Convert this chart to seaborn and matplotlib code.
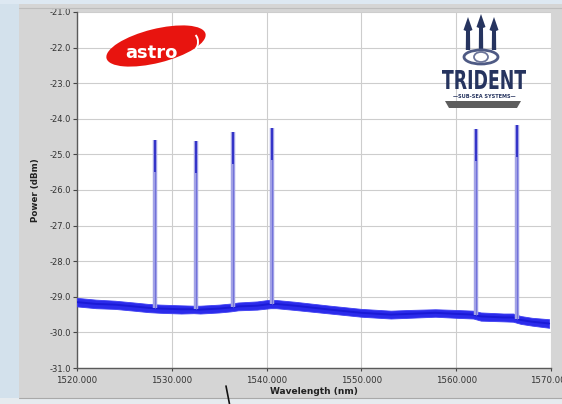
import numpy as np
import pandas as pd
import matplotlib
matplotlib.use("Agg")
import matplotlib.pyplot as plt
import seaborn as sns
from matplotlib.patches import Ellipse, Arc, Polygon, Rectangle, PathPatch
from matplotlib.textpath import TextPath
from matplotlib.font_manager import FontProperties
from matplotlib.transforms import IdentityTransform, Affine2D
from matplotlib.lines import Line2D

# ---- spectrum data -------------------------------------------------------
# noise floor: wavelength (nm), centre level and envelope (dBm)
floor_nm = [1520.0, 1522.0, 1524.0, 1526.0, 1527.5, 1528.8, 1531.0, 1532.3,
            1533.0, 1535.0, 1536.2, 1537.0, 1539.0, 1540.4, 1541.0, 1543.0,
            1546.7, 1550.0, 1553.1, 1555.0, 1557.8, 1560.0, 1561.8, 1562.6,
            1565.0, 1566.0, 1566.8, 1568.0, 1569.8]
floor_dbm = [-29.15, -29.20, -29.22, -29.27, -29.31, -29.33, -29.35, -29.35,
             -29.36, -29.33, -29.30, -29.27, -29.25, -29.20, -29.20, -29.25,
             -29.36, -29.45, -29.50, -29.48, -29.45, -29.48, -29.50, -29.55,
             -29.58, -29.58, -29.65, -29.70, -29.75]
floor_upper = [-29.03, -29.08, -29.11, -29.16, -29.20, -29.22, -29.24, -29.25,
               -29.25, -29.22, -29.19, -29.16, -29.13, -29.08, -29.09, -29.14,
               -29.25, -29.34, -29.39, -29.37, -29.35, -29.37, -29.39, -29.44,
               -29.47, -29.47, -29.54, -29.59, -29.63]
floor_lower = [-29.27, -29.32, -29.34, -29.39, -29.43, -29.45, -29.47, -29.46,
               -29.47, -29.44, -29.41, -29.38, -29.36, -29.32, -29.32, -29.37,
               -29.47, -29.56, -29.61, -29.59, -29.56, -29.59, -29.61, -29.67,
               -29.69, -29.70, -29.76, -29.81, -29.87]

# DWDM channels: centre wavelength (nm) and peak power (dBm)
peak_nm = [1528.2, 1532.6, 1536.5, 1540.6, 1562.1, 1566.4]
peak_dbm = [-24.60, -24.62, -24.38, -24.27, -24.28, -24.18]

y_ticks = [-21.0, -22.0, -23.0, -24.0, -25.0, -26.0, -27.0, -28.0, -29.0,
           -30.0, -31.0]
x_ticks = [1520, 1530, 1540, 1550, 1560, 1570]

floor_df = pd.DataFrame({"Wavelength (nm)": floor_nm, "Power (dBm)": floor_dbm})

# ---- figure --------------------------------------------------------------
sns.set_theme(style="white")
plt.rcParams["font.family"] = ["DejaVu Sans"]
plt.rcParams["axes.unicode_minus"] = False

W, H = 562, 404
PANEL = "#d5d5d5"
fig = plt.figure(figsize=(W / 100, H / 100), dpi=100, facecolor=PANEL)

def px(x, y):
    """pixel position (from top-left) -> display coords"""
    return x, H - y

# surrounding desktop strips
fig.patches.append(Rectangle((0, 0), 19, H, transform=IdentityTransform(),
                             facecolor="#d3e1ec", edgecolor="none", zorder=0))
fig.patches.append(Rectangle((0, H - 4), W, 4, transform=IdentityTransform(),
                             facecolor="#dde8f2", edgecolor="none", zorder=0))
fig.patches.append(Rectangle((0, 0), W, 6, transform=IdentityTransform(),
                             facecolor="#e6ebef", edgecolor="none", zorder=0))
fig.lines.append(Line2D([19, W], [6, 6], transform=IdentityTransform(),
                        color="#a9a9a9", lw=0.8))
fig.lines.append(Line2D([19, W], [H - 8, H - 8], transform=IdentityTransform(),
                        color="#bdbdbd", lw=0.8))

ax = fig.add_axes([77 / W, 36 / H, 474 / W, 356 / H])
ax.set_facecolor("white")

# noise floor band
ax.fill_between(floor_nm, floor_lower, floor_upper, color="#2b2beb",
                lw=0.6, edgecolor="#3e3ef2", zorder=3)
sns.lineplot(data=floor_df, x="Wavelength (nm)", y="Power (dBm)", ax=ax,
             color="#1a1ad6", linewidth=1.4, zorder=4)

# channel peaks rising from the floor
peak_base = np.interp(peak_nm, floor_nm, floor_dbm)
ax.vlines(peak_nm, peak_base, peak_dbm, color="#a3a3e6", lw=3.2, zorder=5)
ax.vlines(peak_nm, peak_base, peak_dbm, color="#7272da", lw=0.8, zorder=6)
ax.vlines(peak_nm, np.array(peak_dbm) - 0.9, peak_dbm, color="#3232c8",
          lw=1.4, zorder=6)

ax.set_xlim(1520, 1570)
ax.set_ylim(-31, -21)
ax.set_xticks(x_ticks)
ax.set_yticks(y_ticks)
ax.set_xticklabels([f"{v:.3f}" for v in x_ticks])
ax.set_yticklabels([f"{v:.1f}" for v in y_ticks])
ax.grid(True, color="#cdcdcd", lw=0.8)
ax.set_axisbelow(True)
for s in ["top", "right"]:
    ax.spines[s].set_visible(False)
for s in ["left", "bottom"]:
    ax.spines[s].set_color("#5a5a5a")
    ax.spines[s].set_linewidth(1.0)
ax.tick_params(axis="y", direction="out", length=3, width=0.8, color="#444444",
               labelsize=6, labelcolor="#333333", pad=1, left=True)
ax.tick_params(axis="x", direction="out", length=2, width=0.8, color="#444444",
               labelsize=6.2, labelcolor="#333333", pad=4, bottom=True)
ax.set_xlabel("Wavelength (nm)", fontsize=6.5, fontweight="bold",
              color="#222222", labelpad=1)
ax.set_ylabel("Power (dBm)", fontsize=6.3, fontweight="bold",
              color="#222222", labelpad=7)

# ---- astro logo ----------------------------------------------------------
fig.patches.append(Ellipse(px(156, 46), 102, 34, angle=14,
                           transform=IdentityTransform(),
                           facecolor="#e8140f", edgecolor="none", zorder=10))
fig.text(151 / W, 1 - 53 / H, "astro", color="white", fontsize=13,
         fontweight="bold", ha="center", va="center", zorder=11)
fig.patches.append(Arc(px(193, 42), 10, 16, angle=0, theta1=-70, theta2=70,
                       transform=IdentityTransform(), color="white", lw=1.4,
                       zorder=11))

# ---- trident logo --------------------------------------------------------
NAVY = "#26345f"
for cx, tip in [(468, 17), (481, 14), (494, 17)]:
    pts = [px(cx, tip), px(cx + 4.5, tip + 13), px(cx + 2.0, tip + 14),
           px(cx + 2.2, 50), px(cx - 2.2, 50), px(cx - 2.0, tip + 14),
           px(cx - 4.5, tip + 13)]
    fig.patches.append(Polygon(pts, closed=True, transform=IdentityTransform(),
                               facecolor=NAVY, edgecolor="none", zorder=10))
fig.patches.append(Ellipse(px(481, 57), 34, 14, transform=IdentityTransform(),
                           facecolor="none", edgecolor="#4e5a84", lw=2.0,
                           zorder=10))
fig.patches.append(Ellipse(px(481, 57), 14, 10, transform=IdentityTransform(),
                           facecolor="none", edgecolor="#6d769a", lw=1.3,
                           zorder=10))

tp = TextPath((0, 0), "TRIDENT", size=1,
              prop=FontProperties(family="DejaVu Sans", weight="bold"))
bb = tp.get_extents()
tr = (Affine2D().translate(-bb.x0, -bb.y0)
      .scale(84 / bb.width, 19 / bb.height).translate(*px(442, 89)))
fig.patches.append(PathPatch(tr.transform_path(tp), facecolor=NAVY,
                             edgecolor="none", transform=IdentityTransform(),
                             zorder=10))
fig.text(484 / W, 1 - 97 / H, "—SUB-SEA SYSTEMS—", color=NAVY, fontsize=3.6,
         fontweight="bold", ha="center", va="center", zorder=10)
fig.patches.append(Polygon([px(445, 101), px(521, 101), px(517, 108),
                            px(449, 108)], closed=True,
                           transform=IdentityTransform(), facecolor="#5d5d5d",
                           edgecolor="none", zorder=10))

# cursor stroke below the chart
fig.lines.append(Line2D([226, 229.5], [H - 386, 0], transform=IdentityTransform(),
                        color="#111111", lw=1.2))

fig.savefig("out.png", dpi=100, facecolor=PANEL)
